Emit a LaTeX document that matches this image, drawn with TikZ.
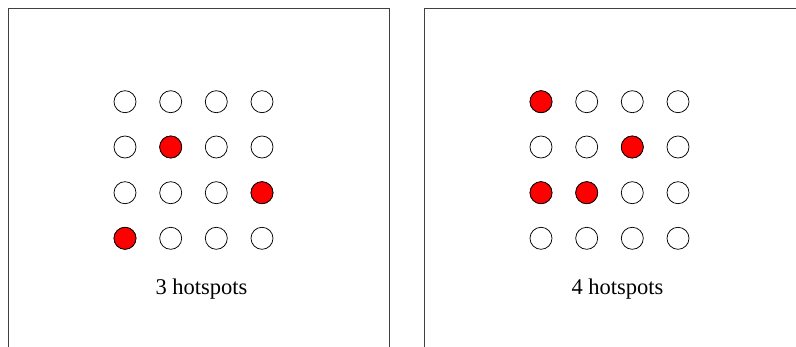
\documentclass[tikz,border=0pt]{standalone}
\usepackage{fontspec}
\setmainfont{Liberation Serif}
\begin{document}
\begin{tikzpicture}[x=1pt,y=-1pt,
  frame/.style={draw=black!75,line width=1pt},
  spot/.style={circle,draw=black,line width=0.75pt,minimum size=22pt,inner sep=0pt,fill=white},
  hot/.style={spot,fill=red},
  captext/.style={font=\fontsize{22.5}{26}\selectfont,inner sep=0pt}]
\useasboundingbox (0,0) rectangle (796,347);
% frames
\draw[frame] (8,360) -- (8,9) -- (389,9) -- (389,360);
\draw[frame] (424,360) -- (424,9) -- (810,9);
% grids
\foreach \i/\x in {1/125,2/170.7,3/216.3,4/262}{
  \foreach \j/\y in {1/101.7,2/147,3/192.7,4/238.3}{
    \node[spot] (L\i\j) at (\x,\y) {};
    \node[spot] (R\i\j) at (\x+416,\y) {};
  }
}
\node[hot] (L22) at (170.7,147) {};
\node[hot] (L43) at (262,192.7) {};
\node[hot] (L14) at (125,238.3) {};
\node[hot] (R11) at (541,101.7) {};
\node[hot] (R32) at (632.3,147) {};
\node[hot] (R13) at (541,192.7) {};
\node[hot] (R23) at (586.7,192.7) {};
\node[captext] (capL) at (201.5,289) {3 hotspots};
\node[captext] (capR) at (617.5,289) {4 hotspots};
\end{tikzpicture}
\end{document}
